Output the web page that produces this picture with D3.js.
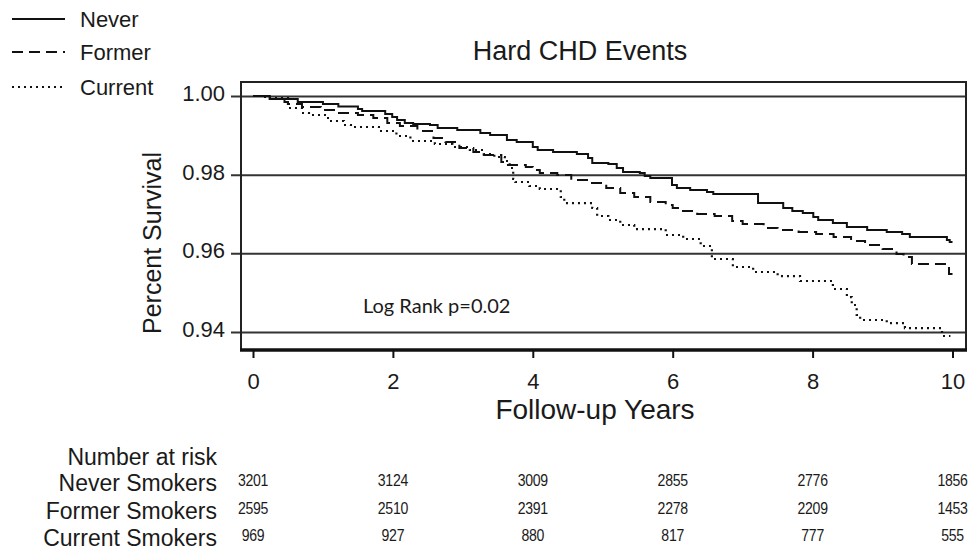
<!DOCTYPE html>
<html>
<head>
<meta charset="utf-8">
<script src="https://cdn.jsdelivr.net/npm/d3@7"></script>
<style>
  html, body { margin: 0; padding: 0; background: #fff; }
  svg { display: block; }
  text { font-family: "Liberation Sans", Arial, sans-serif; fill: #1a1a1a; }
</style>
</head>
<body>
<svg id="chart" width="971" height="555"></svg>
<script>
// ---------- data ----------
const title = "Hard CHD Events";
const xLabel = "Follow-up Years";
const yLabel = "Percent Survival";
const annotation = "Log Rank p=0.02";
const xTicks = [0, 2, 4, 6, 8, 10];
const yTicks = [0.94, 0.96, 0.98, 1.00];
const seriesNames = ["Never", "Former", "Current"];

// step curves: [year, survival]
const neverCurve = [
  [0,1.0],[0.24,0.99924],[0.64,0.99847],[1.00,0.99797],[1.22,0.99733],[1.50,0.99669],
  [1.56,0.99619],[1.89,0.99542],[1.99,0.99466],[2.06,0.99390],[2.17,0.99313],[2.29,0.99288],
  [2.53,0.99263],[2.64,0.99186],[2.92,0.99136],[3.25,0.99059],[3.39,0.99008],[3.63,0.98881],
  [3.77,0.98830],[4.00,0.98703],[4.07,0.98627],[4.29,0.98576],[4.63,0.98525],[4.79,0.98424],
  [4.85,0.98296],[5.08,0.98271],[5.20,0.98169],[5.29,0.98068],[5.53,0.98042],[5.60,0.97966],
  [5.68,0.97915],[5.99,0.97737],[6.06,0.97661],[6.25,0.97610],[6.49,0.97559],[6.58,0.97508],
  [7.22,0.97279],[7.58,0.97152],[7.71,0.97076],[7.86,0.97025],[8.01,0.96923],[8.08,0.96847],
  [8.29,0.96771],[8.49,0.96669],[8.78,0.96593],[9.06,0.96542],[9.28,0.96491],[9.39,0.96415],
  [9.92,0.96339],[9.96,0.96288],[10.0,0.96288]
];
const formerCurve = [
  [0,1.0],[0.24,0.99924],[0.45,0.99847],[0.50,0.99797],[0.70,0.99720],[0.97,0.99644],
  [1.20,0.99568],[1.50,0.99517],[1.72,0.99441],[1.92,0.99313],[2.10,0.99237],[2.35,0.99110],
  [2.58,0.98932],[2.75,0.98830],[2.95,0.98678],[3.15,0.98576],[3.30,0.98500],[3.55,0.98322],
  [3.63,0.98245],[3.90,0.98195],[4.00,0.98118],[4.10,0.98043],[4.35,0.97992],[4.55,0.97864],
  [4.80,0.97788],[5.05,0.97661],[5.25,0.97534],[5.45,0.97432],[5.68,0.97305],[5.90,0.97228],
  [6.00,0.97152],[6.10,0.97076],[6.35,0.97000],[6.60,0.96949],[6.85,0.96822],[7.00,0.96746],
  [7.30,0.96644],[7.50,0.96593],[7.80,0.96542],[8.05,0.96491],[8.30,0.96415],[8.55,0.96313],
  [8.75,0.96212],[9.00,0.96110],[9.20,0.95983],[9.30,0.95906],[9.42,0.95728],[9.95,0.95474],
  [10.0,0.95474]
];
const currentCurve = [
  [0,1.0],[0.15,0.99975],[0.20,0.99949],[0.50,0.99695],[0.70,0.99568],[0.80,0.99517],
  [1.05,0.99441],[1.10,0.99364],[1.30,0.99263],[1.40,0.99212],[1.80,0.99110],[2.05,0.98983],
  [2.25,0.98856],[2.60,0.98780],[2.85,0.98703],[3.10,0.98627],[3.30,0.98525],[3.45,0.98449],
  [3.60,0.98347],[3.67,0.98169],[3.72,0.97890],[3.75,0.97813],[3.95,0.97712],[4.10,0.97636],
  [4.40,0.97432],[4.45,0.97279],[4.85,0.97152],[4.92,0.96949],[5.08,0.96847],[5.25,0.96720],
  [5.45,0.96618],[5.90,0.96466],[6.15,0.96364],[6.40,0.96186],[6.56,0.95856],[6.86,0.95653],
  [7.15,0.95525],[7.50,0.95423],[7.82,0.95296],[8.29,0.95093],[8.49,0.94889],[8.56,0.94686],
  [8.63,0.94432],[8.68,0.94305],[9.06,0.94228],[9.32,0.94101],[9.85,0.93898],[9.97,0.93898]
];

const riskTitle = "Number at risk";
const riskGroups = ["Never Smokers", "Former Smokers", "Current Smokers"];
const riskNever   = [3201, 3124, 3009, 2855, 2776, 1856];
const riskFormer  = [2595, 2510, 2391, 2278, 2209, 1453];
const riskCurrent = [969, 927, 880, 817, 777, 555];

// ---------- layout ----------
const svg = d3.select("#chart");
const frame = {left: 241, right: 966, top: 82, bottom: 350};
const x = d3.scaleLinear().domain([0, 10]).range([253, 952.5]);
const y = d3.scaleLinear().domain([0.94, 1.00]).range([332, 96]);

const styles = [
  {dash: null, width: 2},
  {dash: "11,6", width: 2},
  {dash: "2,4", width: 2.2}
];

// y axis with full-width grid lines
const yAxis = d3.axisLeft(y).tickValues(yTicks).tickFormat(d3.format(".2f"))
  .tickSize(-(frame.right - 231)).tickPadding(6);
const gy = svg.append("g").attr("transform", "translate(231,0)").call(yAxis);
gy.select(".domain").remove();
gy.selectAll("line").attr("stroke", "#333").attr("stroke-width", 2);
gy.selectAll("text").attr("font-size", 22).attr("fill", "#1a1a1a")
  .attr("font-family", "Liberation Sans, Arial, sans-serif").attr("dy", "0.2em");

// x axis
const xAxis = d3.axisBottom(x).tickValues(xTicks).tickFormat(d3.format("d"))
  .tickSize(8).tickPadding(15);
const gx = svg.append("g").attr("transform", `translate(0,${frame.bottom})`).call(xAxis);
gx.select(".domain").remove();
gx.selectAll("line").attr("stroke", "#111").attr("stroke-width", 2);
gx.selectAll("text").attr("font-size", 22).attr("fill", "#1a1a1a")
  .attr("font-family", "Liberation Sans, Arial, sans-serif");

// frame
svg.append("path")
  .attr("d", `M${frame.left},${frame.bottom}V${frame.top}H${frame.right}V${frame.bottom}`)
  .attr("fill", "none").attr("stroke", "#222").attr("stroke-width", 2);
svg.append("line")
  .attr("x1", frame.left - 1).attr("x2", frame.right + 1)
  .attr("y1", frame.bottom).attr("y2", frame.bottom)
  .attr("stroke", "#111").attr("stroke-width", 3.5);

// curves
const line = d3.line().x(d => x(d[0])).y(d => y(d[1])).curve(d3.curveStepAfter);
[neverCurve, formerCurve, currentCurve].forEach((c, i) => {
  svg.append("path").datum(c).attr("d", line)
    .attr("fill", "none").attr("stroke", "#111")
    .attr("stroke-width", styles[i].width)
    .attr("stroke-dasharray", styles[i].dash);
});

// title & labels
svg.append("text").attr("x", 580).attr("y", 60).attr("text-anchor", "middle")
  .attr("font-size", 27).text(title);
svg.append("text").attr("x", 595).attr("y", 419).attr("text-anchor", "middle")
  .attr("font-size", 28).text(xLabel);
svg.append("text").attr("transform", "translate(161,243) rotate(-90)")
  .attr("text-anchor", "middle").attr("font-size", 25).text(yLabel);
svg.append("text").attr("x", 363).attr("y", 313)
  .attr("font-size", 20)
  .style("font-family", "Lato, 'Open Sans', sans-serif").text(annotation);

// legend
const legY = [19, 52, 87];
seriesNames.forEach((n, i) => {
  svg.append("line").attr("x1", 12).attr("x2", 65).attr("y1", legY[i]).attr("y2", legY[i])
    .attr("stroke", "#111").attr("stroke-width", 2).attr("stroke-dasharray", styles[i].dash);
  svg.append("text").attr("x", 80).attr("y", legY[i] + 8).attr("font-size", 22).text(n);
});

// number at risk table
svg.append("text").attr("x", 217).attr("y", 465).attr("text-anchor", "end")
  .attr("font-size", 23).text(riskTitle);
const rowY = [491, 519, 546];
[riskNever, riskFormer, riskCurrent].forEach((row, i) => {
  svg.append("text").attr("x", 217).attr("y", rowY[i]).attr("text-anchor", "end")
    .attr("font-size", 23).text(riskGroups[i]);
  svg.append("g").selectAll("text").data(row).join("text")
    .attr("transform", (d, j) => `translate(${x(xTicks[j])},${rowY[i] - 5}) scale(0.88,1)`)
    .attr("text-anchor", "middle").attr("font-size", 16)
    .attr("letter-spacing", -0.3)
    .text(d => d);
});
</script>
</body>
</html>
